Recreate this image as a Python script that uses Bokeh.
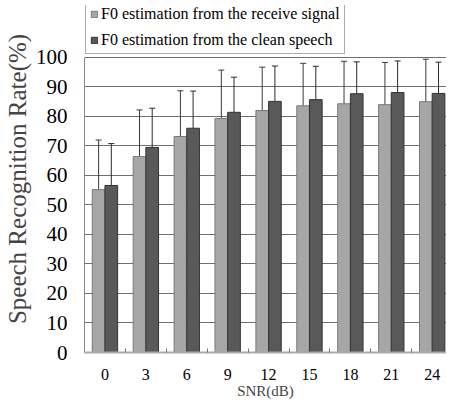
from bokeh.plotting import figure
from bokeh.models import (ColumnDataSource, Range1d, FixedTicker, Whisker, TeeHead,
                          Legend, LegendItem)
from bokeh.embed import file_html
from bokeh.resources import INLINE

snr_labels = ["0", "3", "6", "9", "12", "15", "18", "21", "24"]
receive_mean = [55.2, 66.4, 73.2, 79.3, 82.0, 83.6, 84.3, 84.0, 85.0]
receive_err = [16.8, 15.8, 15.5, 16.4, 14.7, 14.4, 14.4, 14.3, 14.4]
clean_mean = [56.6, 69.5, 76.0, 81.4, 85.1, 85.7, 87.7, 88.1, 87.8]
clean_err = [14.2, 13.3, 12.6, 11.9, 12.0, 11.3, 10.8, 10.7, 10.6]
y_ticks = [0, 10, 20, 30, 40, 50, 60, 70, 80, 90, 100]

FONT = "Liberation Serif"
BAR_W = 0.31
idx = list(range(len(snr_labels)))

src_r = ColumnDataSource(dict(
    x=[i - BAR_W / 2 for i in idx], y=receive_mean,
    lo=[m - e for m, e in zip(receive_mean, receive_err)],
    hi=[m + e for m, e in zip(receive_mean, receive_err)]))
src_c = ColumnDataSource(dict(
    x=[i + BAR_W / 2 for i in idx], y=clean_mean,
    lo=[m - e for m, e in zip(clean_mean, clean_err)],
    hi=[m + e for m, e in zip(clean_mean, clean_err)]))

# frame extends above 100 so the legend sits inside it
p = figure(frame_width=362, frame_height=347, output_backend="svg", toolbar_location=None,
           x_range=Range1d(-0.5, 8.35), y_range=Range1d(0, 117.6),
           min_border_left=82, min_border_right=0, min_border_top=5,
           min_border_bottom=5)
p.outline_line_color = None
p.background_fill_color = "white"
p.border_fill_color = "white"

r1 = p.vbar(x="x", top="y", width=BAR_W, source=src_r, fill_color="#a6a6a6",
            line_color="#7a7a7a", line_width=1)
r2 = p.vbar(x="x", top="y", width=BAR_W, source=src_c, fill_color="#595959",
            line_color="#333333", line_width=1)

for src, col in ((src_r, "#3a3a3a"), (src_c, "#2a2a2a")):
    w = Whisker(source=src, base="x", upper="hi", lower="lo", line_color=col,
                line_width=1,
                upper_head=TeeHead(size=6, line_color=col, line_width=1),
                lower_head=TeeHead(size=6, line_color=col, line_width=1))
    p.add_layout(w)

# axes
p.xgrid.visible = False
p.ygrid.grid_line_color = "#6f6f6f"
p.ygrid.grid_line_width = 1
p.yaxis.ticker = FixedTicker(ticks=y_ticks)
p.yaxis.bounds = (0, 100)
p.yaxis.major_label_text_font = FONT
p.yaxis.major_label_text_font_size = "21px"
p.yaxis.major_label_text_color = "black"
p.yaxis.major_label_standoff = 17
p.yaxis.major_tick_out = 0
p.yaxis.major_tick_in = 0
p.yaxis.minor_tick_line_color = None
p.yaxis.axis_line_color = "#888888"
p.yaxis.axis_label = "Speech Recognition Rate(%)"
p.yaxis.axis_label_text_font = FONT
p.yaxis.axis_label_text_font_style = "normal"
p.yaxis.axis_label_text_font_size = "25px"
p.yaxis.axis_label_standoff = 2

p.xaxis.ticker = FixedTicker(ticks=idx, minor_ticks=[i + 0.5 for i in idx[:-1]])
p.xaxis.major_label_overrides = {i: l for i, l in zip(idx, snr_labels)}
p.xaxis.major_label_text_font = FONT
p.xaxis.major_label_text_font_size = "16px"
p.xaxis.major_label_text_color = "black"
p.xaxis.major_label_standoff = 16
p.xaxis.major_tick_in = 0
p.xaxis.major_tick_out = 0
p.xaxis.minor_tick_in = 4
p.xaxis.minor_tick_out = 0
p.xaxis.minor_tick_line_color = "#777777"
p.xaxis.axis_line_color = "#aaaaaa"
p.xaxis.axis_line_width = 2
p.xaxis.axis_label = "SNR(dB)"
p.xaxis.axis_label_text_font = FONT
p.xaxis.axis_label_text_font_style = "normal"
p.xaxis.axis_label_text_font_size = "15px"
p.xaxis.axis_label_standoff = 0

legend = Legend(items=[
    LegendItem(label="F0 estimation from the receive signal", renderers=[r1]),
    LegendItem(label="F0 estimation from the clean speech", renderers=[r2])],
    location=(1, 298), orientation="vertical")
legend.label_text_font = FONT
legend.label_text_font_size = "16px"
legend.label_text_color = "black"
legend.glyph_width = 8
legend.glyph_height = 8
legend.label_height = 16
legend.label_standoff = 3
legend.spacing = 8
legend.padding = 4
legend.margin = 0
legend.border_line_color = "#555555"
legend.border_line_width = 1
legend.background_fill_alpha = 1
p.add_layout(legend, "center")

open("out.html", "w").write(file_html(p, INLINE))
